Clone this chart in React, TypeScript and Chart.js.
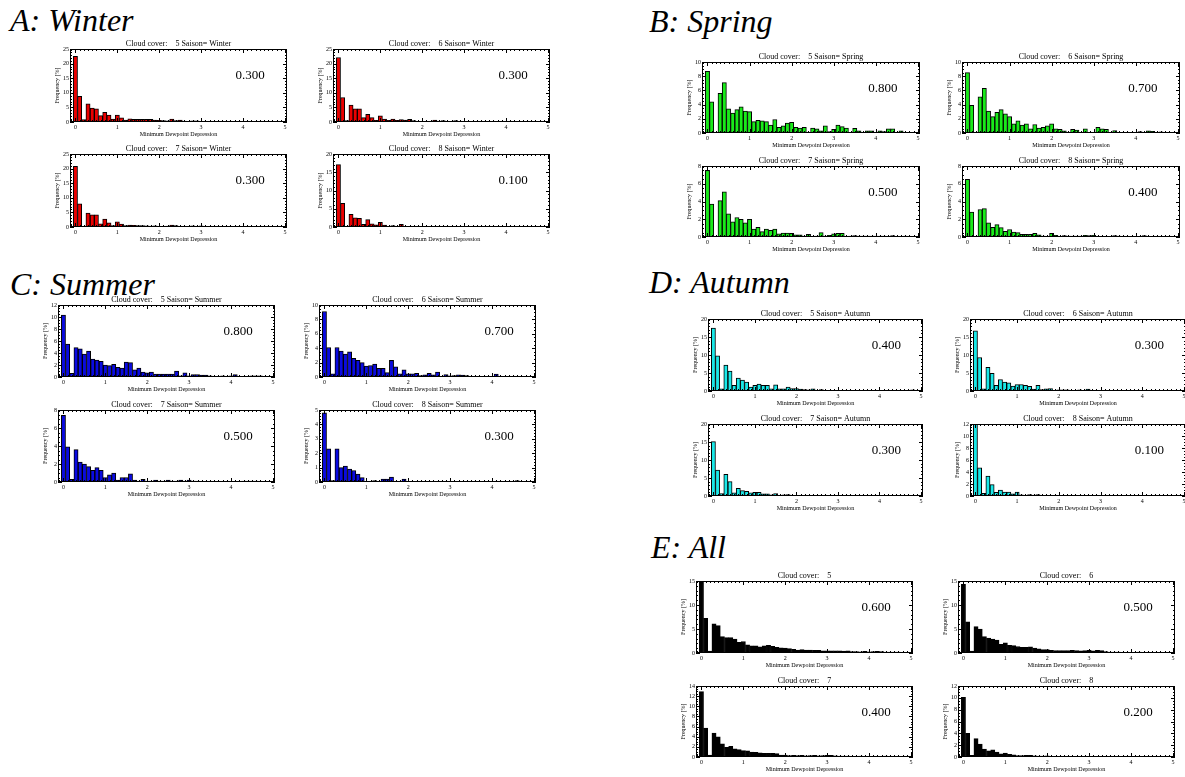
import React, { useEffect, useRef } from "react";
import { Chart, registerables } from "chart.js";

Chart.register(...registerables);

// ---------- DATA ----------
const BIN_CENTERS = [
  0.0, 0.1, 0.2, 0.3, 0.4, 0.5, 0.6, 0.7, 0.8, 0.9,
  1.0, 1.1, 1.2, 1.3, 1.4, 1.5, 1.6, 1.7, 1.8, 1.9,
  2.0, 2.1, 2.2, 2.3, 2.4, 2.5, 2.6, 2.7, 2.8, 2.9,
  3.0, 3.1, 3.2, 3.3, 3.4, 3.5, 3.6, 3.7, 3.8, 3.9,
  4.0, 4.1, 4.2, 4.3, 4.4, 4.5, 4.6, 4.7, 4.8, 4.9,
];

const WINTER_5 = [22.5, 8.8, 0.8, 6.2, 4.8, 4.5, 2.2, 3.3, 2.4, 1.0, 2.4, 1.4, 0.7, 1.1, 0.9, 0.9, 0.9, 0.9, 0.9, 0.7, 0.6, 0.5, 0.4, 1.0, 0.5, 0.7, 0.3, 0.2, 0.4, 0.4, 0.2, 0.2, 0.2, 0.1, 0.1, 0.2, 0.1, 0.1, 0.1, 0.1, 0.1, 0.1, 0.1, 0.1, 0.1, 0.2, 0.1, 0.1, 0.1, 0.1];
const WINTER_6 = [22.1, 8.4, 0.5, 5.8, 4.5, 4.5, 1.5, 2.6, 1.5, 0.6, 2.1, 1.0, 0.6, 1.0, 0.6, 0.8, 0.7, 0.9, 0.5, 0.2, 0.2, 0.2, 0.2, 0.7, 0.3, 0.5, 0.2, 0.2, 0.5, 0.2, 0.1, 0.1, 0.1, 0.1, 0.1, 0.1, 0.1, 0.1, 0.1, 0.1, 0.1, 0.1, 0.1, 0.1, 0.1, 0.1, 0.1, 0.1, 0.1, 0.1];
const WINTER_7 = [20.8, 7.9, 0.2, 4.8, 4.2, 4.2, 1.1, 2.7, 1.4, 0.5, 1.8, 1.0, 0.5, 0.7, 0.6, 0.5, 0.5, 0.4, 0.3, 0.4, 0.2, 0.2, 0.3, 0.7, 0.5, 0.2, 0.1, 0.2, 0.4, 0.2, 0.4, 0.1, 0.1, 0.1, 0.1, 0.1, 0.1, 0.1, 0.1, 0.1, 0.1, 0.1, 0.1, 0.1, 0.1, 0.1, 0.1, 0.1, 0.1, 0.1];
const WINTER_8 = [17.1, 6.5, 0.2, 3.5, 2.5, 2.4, 0.7, 2.0, 0.9, 0.6, 1.3, 0.5, 0.2, 0.4, 0.2, 0.7, 0.1, 0.1, 0.05, 0.05, 0.05, 0.05, 0.05, 0.05, 0.05, 0.05, 0.05, 0.05, 0.05, 0.05, 0.05, 0.05, 0.05, 0.05, 0.05, 0.05, 0.05, 0.05, 0.05, 0.05, 0.05, 0.05, 0.05, 0.05, 0.05, 0.05, 0.05, 0.05, 0.05, 0.05];

const SPRING_5 = [8.7, 4.4, 0, 5.6, 7.1, 3.4, 2.8, 3.3, 3.7, 3.1, 3.0, 1.6, 1.8, 1.7, 1.6, 1.1, 1.9, 0.8, 1.0, 1.4, 1.5, 0.8, 0.7, 0.8, 0.1, 0.7, 0.6, 0.3, 1.0, 0.2, 0.5, 1.1, 0.9, 0.7, 0.1, 0.65, 0.3, 0.1, 0.3, 0.3, 0.1, 0.3, 0.2, 0.6, 0.6, 0.1, 0.3, 0.05, 0.05, 0.1];
const SPRING_6 = [8.5, 3.9, 0, 5.1, 6.3, 3.1, 2.3, 2.9, 3.3, 2.7, 2.3, 1.3, 1.7, 1.1, 1.3, 0.6, 1.2, 0.7, 0.8, 1.0, 1.3, 0.6, 0.5, 0.3, 0.1, 0.5, 0.4, 0.05, 0.6, 0.1, 0.1, 0.8, 0.6, 0.5, 0.05, 0.35, 0.05, 0.1, 0.1, 0.1, 0.1, 0.2, 0.1, 0.3, 0.25, 0.1, 0.15, 0.05, 0.05, 0.05];
const SPRING_7 = [7.5, 3.7, 0, 4.1, 5.1, 2.6, 1.7, 2.2, 2.0, 1.6, 2.0, 0.9, 1.1, 0.6, 0.9, 0.75, 0.9, 0.35, 0.45, 0.45, 0.4, 0.25, 0.25, 0.1, 0.3, 0.05, 0.1, 0.5, 0.1, 0.2, 0.35, 0.4, 0.4, 0.05, 0.1, 0.15, 0.1, 0.1, 0.1, 0.1, 0.1, 0.1, 0.1, 0.05, 0.15, 0.05, 0.05, 0.1, 0.05, 0.05];
const SPRING_8 = [6.5, 2.8, 0, 3.1, 3.2, 1.6, 1.1, 1.4, 1.05, 0.65, 0.85, 0.55, 0.5, 0.3, 0.3, 0.3, 0.4, 0.25, 0.1, 0.05, 0.4, 0.2, 0.05, 0.15, 0.1, 0.1, 0.1, 0.1, 0.2, 0.15, 0.2, 0.05, 0.05, 0.05, 0.05, 0.15, 0.1, 0.05, 0.05, 0.05, 0.05, 0.05, 0.15, 0.05, 0.05, 0.05, 0.05, 0.05, 0.05, 0.05];

const SUMMER_5 = [10.3, 5.5, 0.6, 4.9, 4.7, 3.8, 4.3, 3.0, 2.8, 2.6, 2.0, 1.9, 2.1, 1.6, 1.5, 2.5, 2.4, 1.2, 1.5, 0.8, 0.7, 0.8, 0.5, 0.5, 0.5, 0.5, 0.5, 1.0, 0.2, 0.7, 0.2, 0.4, 0.4, 0.3, 0.3, 0.2, 0.1, 0.1, 0.2, 0.1, 0.2, 0.4, 0.1, 0.05, 0.1, 0.2, 0.2, 0.2, 0.1, 0.05];
const SUMMER_6 = [9.1, 4.1, 0.45, 4.1, 3.6, 3.2, 3.5, 2.6, 2.3, 2.0, 1.5, 1.6, 1.8, 1.2, 1.2, 0.6, 2.3, 1.4, 0.45, 1.0, 0.45, 0.45, 0.5, 0.2, 0.3, 0.5, 0.3, 0.7, 0.1, 0.35, 0.15, 0.2, 0.3, 0.25, 0.2, 0.1, 0.05, 0.05, 0.05, 0.05, 0.05, 0.4, 0.05, 0.05, 0.1, 0.1, 0.1, 0.1, 0.1, 0.05];
const SUMMER_7 = [7.4, 3.9, 0.3, 3.6, 2.2, 2.0, 1.7, 1.3, 1.6, 1.3, 0.5, 0.8, 1.0, 0.2, 0.5, 0.5, 0.9, 0.2, 0.1, 0.3, 0.1, 0.1, 0.2, 0.1, 0.1, 0.2, 0.1, 0.1, 0.2, 0.1, 0.2, 0.1, 0.1, 0.05, 0.05, 0.05, 0.05, 0.05, 0.05, 0.05, 0.05, 0.05, 0.05, 0.1, 0.1, 0.1, 0.1, 0.05, 0.05, 0.05];
const SUMMER_8 = [4.8, 2.3, 0.1, 2.3, 1.0, 1.1, 0.9, 0.8, 0.55, 0.3, 0.05, 0.05, 0.1, 0.05, 0.2, 0.2, 0.35, 0.05, 0.05, 0.2, 0.05, 0.05, 0.05, 0.05, 0.05, 0.05, 0, 0, 0, 0, 0, 0, 0, 0, 0, 0, 0, 0, 0, 0, 0, 0, 0, 0, 0, 0, 0.1, 0, 0, 0];

const AUTUMN_5 = [17.5, 9.8, 0.6, 7.2, 5.5, 1.6, 3.6, 3.0, 2.5, 1.1, 1.6, 1.9, 1.6, 1.6, 0.6, 1.7, 0.6, 0.6, 1.1, 0.7, 0.7, 0.5, 0.4, 0.3, 0.6, 0.2, 0.4, 0.2, 0.1, 0.2, 0.1, 0.1, 0.1, 0.1, 0.1, 0.1, 0.1, 0.1, 0.1, 0.1, 0.1, 0.1, 0.1, 0.1, 0.1, 0.1, 0.1, 0.1, 0.3, 0.1];
const AUTUMN_6 = [16.7, 9.3, 0.6, 6.6, 4.9, 1.6, 3.2, 2.5, 2.3, 1.4, 1.8, 1.8, 1.6, 1.3, 0.5, 1.6, 0.4, 0.6, 0.7, 0.2, 0.3, 0.3, 0.3, 0.1, 0.1, 0.3, 0.1, 0.5, 0.1, 0.1, 0.2, 0.1, 0.2, 0.1, 0.05, 0.05, 0.05, 0.05, 0.05, 0.05, 0.05, 0.05, 0.05, 0.05, 0.05, 0.05, 0.05, 0.05, 0.05, 0.05];
const AUTUMN_7 = [15.1, 7.2, 0.7, 6.0, 4.0, 0.9, 2.1, 1.5, 1.3, 0.9, 1.0, 1.0, 0.6, 0.6, 0.3, 0.7, 0.2, 0.3, 0.4, 0.15, 0.05, 0.05, 0.05, 0.05, 0.05, 0.05, 0.05, 0.05, 0.05, 0.05, 0.05, 0.05, 0.05, 0.05, 0.05, 0.05, 0.05, 0.05, 0.05, 0.05, 0.05, 0.05, 0.05, 0.05, 0.05, 0.05, 0.05, 0.05, 0.05, 0.05];
const AUTUMN_8 = [12.5, 4.7, 0.45, 3.3, 1.9, 0.6, 1.0, 0.65, 0.65, 0.35, 0.65, 0.2, 0.1, 0.25, 0.15, 0.25, 0.05, 0.05, 0.05, 0.05, 0.05, 0.05, 0.05, 0.05, 0.05, 0.05, 0.05, 0.05, 0.05, 0.05, 0.05, 0.05, 0.05, 0.05, 0.05, 0.05, 0.05, 0.05, 0.05, 0.05, 0.05, 0.05, 0.05, 0.05, 0.05, 0.05, 0.05, 0.05, 0.05, 0.05];

const ALL_5 = [14.7, 7.2, 0.4, 6.1, 5.7, 3.4, 3.2, 3.2, 2.9, 2.2, 2.4, 1.7, 1.5, 1.5, 1.3, 1.5, 1.6, 1.4, 1.2, 1.1, 1.05, 0.9, 0.75, 0.6, 0.7, 0.6, 0.6, 0.55, 0.55, 0.45, 0.45, 0.45, 0.45, 0.45, 0.4, 0.45, 0.3, 0.3, 0.25, 0.35, 0.25, 0.3, 0.35, 0.3, 0.2, 0.2, 0.2, 0.2, 0.15, 0.1];
const ALL_6 = [14.3, 6.5, 0.4, 5.5, 5.0, 3.4, 3.1, 2.9, 2.7, 1.8, 2.1, 1.6, 1.55, 1.35, 1.2, 1.2, 1.3, 1.0, 0.85, 0.7, 0.7, 0.55, 0.5, 0.5, 0.5, 0.5, 0.55, 0.5, 0.45, 0.5, 0.55, 0.45, 0.55, 0.5, 0.3, 0.2, 0.2, 0.2, 0.15, 0.15, 0.15, 0.15, 0.2, 0.15, 0.15, 0.15, 0.15, 0.15, 0.15, 0.1];
const ALL_7 = [12.9, 5.7, 0.4, 4.7, 4.0, 2.6, 1.9, 2.1, 1.6, 1.45, 1.25, 1.2, 0.95, 0.9, 0.8, 0.7, 0.7, 0.7, 0.65, 0.4, 0.4, 0.3, 0.35, 0.3, 0.35, 0.25, 0.3, 0.35, 0.25, 0.3, 0.35, 0.35, 0.25, 0.2, 0.2, 0.2, 0.15, 0.15, 0.2, 0.15, 0.15, 0.15, 0.15, 0.15, 0.2, 0.15, 0.15, 0.15, 0.15, 0.1];
const ALL_8 = [10.1, 4.0, 0.3, 3.1, 2.2, 1.35, 1.05, 1.2, 0.85, 0.55, 0.65, 0.45, 0.35, 0.25, 0.25, 0.3, 0.3, 0.2, 0.15, 0.15, 0.2, 0.1, 0.1, 0.1, 0.1, 0.1, 0.1, 0.1, 0.1, 0.1, 0.1, 0.1, 0.1, 0.1, 0.05, 0.05, 0.05, 0.05, 0.05, 0.05, 0.05, 0.05, 0.05, 0.05, 0.05, 0.05, 0.05, 0.05, 0.05, 0.05];

// ---------- STYLE / LAYOUT ----------
const FONT = "'Liberation Serif', 'Times New Roman', serif";
const X_MIN = -0.13;
const X_MAX = 5.05;
const PAD = { left: 26, top: 14, right: 4, bottom: 20 };

type PanelDef = {
  title: string;
  values: number[];
  yMax: number;
  yStep: number;
  color: string;
  stat: string;
  x: number;
  y: number;
  w: number;
  h: number;
};

const RED = "rgb(235,0,0)";
const GREEN = "rgb(25,235,25)";
const BLUE = "rgb(10,10,225)";
const CYAN = "rgb(25,232,232)";
const BLACK = "#000";

const tt = (cc: number, season?: string) =>
  season ? `Cloud cover:    ${cc} Saison= ${season}` : `Cloud cover:    ${cc}`;

const PANELS: PanelDef[] = [
  { title: tt(5, "Winter"), values: WINTER_5, yMax: 25, yStep: 5, color: RED, stat: "0.300", x: 70, y: 49, w: 217, h: 73 },
  { title: tt(6, "Winter"), values: WINTER_6, yMax: 25, yStep: 5, color: RED, stat: "0.300", x: 333, y: 49, w: 217, h: 73 },
  { title: tt(7, "Winter"), values: WINTER_7, yMax: 25, yStep: 5, color: RED, stat: "0.300", x: 70, y: 154, w: 217, h: 73 },
  { title: tt(8, "Winter"), values: WINTER_8, yMax: 20, yStep: 5, color: RED, stat: "0.100", x: 333, y: 154, w: 217, h: 73 },

  { title: tt(5, "Spring"), values: SPRING_5, yMax: 10, yStep: 2, color: GREEN, stat: "0.800", x: 702, y: 62, w: 218, h: 71 },
  { title: tt(6, "Spring"), values: SPRING_6, yMax: 10, yStep: 2, color: GREEN, stat: "0.700", x: 962, y: 62, w: 218, h: 71 },
  { title: tt(7, "Spring"), values: SPRING_7, yMax: 8, yStep: 2, color: GREEN, stat: "0.500", x: 702, y: 166, w: 218, h: 71 },
  { title: tt(8, "Spring"), values: SPRING_8, yMax: 8, yStep: 2, color: GREEN, stat: "0.400", x: 962, y: 166, w: 218, h: 71 },

  { title: tt(5, "Summer"), values: SUMMER_5, yMax: 12, yStep: 2, color: BLUE, stat: "0.800", x: 58, y: 305, w: 217, h: 72 },
  { title: tt(6, "Summer"), values: SUMMER_6, yMax: 10, yStep: 2, color: BLUE, stat: "0.700", x: 319, y: 305, w: 217, h: 72 },
  { title: tt(7, "Summer"), values: SUMMER_7, yMax: 8, yStep: 2, color: BLUE, stat: "0.500", x: 58, y: 410, w: 217, h: 72 },
  { title: tt(8, "Summer"), values: SUMMER_8, yMax: 5, yStep: 1, color: BLUE, stat: "0.300", x: 319, y: 410, w: 217, h: 72 },

  { title: tt(5, "Autumn"), values: AUTUMN_5, yMax: 20, yStep: 5, color: CYAN, stat: "0.400", x: 708, y: 319, w: 215, h: 72 },
  { title: tt(6, "Autumn"), values: AUTUMN_6, yMax: 20, yStep: 5, color: CYAN, stat: "0.300", x: 970, y: 319, w: 216, h: 72 },
  { title: tt(7, "Autumn"), values: AUTUMN_7, yMax: 20, yStep: 5, color: CYAN, stat: "0.300", x: 708, y: 424, w: 215, h: 72 },
  { title: tt(8, "Autumn"), values: AUTUMN_8, yMax: 12, yStep: 2, color: CYAN, stat: "0.100", x: 970, y: 424, w: 216, h: 72 },

  { title: tt(5), values: ALL_5, yMax: 15, yStep: 5, color: BLACK, stat: "0.600", x: 696, y: 581, w: 217, h: 72 },
  { title: tt(6), values: ALL_6, yMax: 15, yStep: 5, color: BLACK, stat: "0.500", x: 958, y: 581, w: 217, h: 72 },
  { title: tt(7), values: ALL_7, yMax: 14, yStep: 2, color: BLACK, stat: "0.400", x: 696, y: 686, w: 217, h: 71 },
  { title: tt(8), values: ALL_8, yMax: 12, yStep: 2, color: BLACK, stat: "0.200", x: 958, y: 686, w: 217, h: 71 },
];

const HEADERS = [
  { text: "A: Winter", x: 10, baseline: 31 },
  { text: "B: Spring", x: 649, baseline: 32 },
  { text: "C: Summer", x: 10, baseline: 295 },
  { text: "D: Autumn", x: 649, baseline: 293 },
  { text: "E: All", x: 651, baseline: 558 },
];

// ---------- PLUGIN: IDL-style frame, inward ticks and texts ----------
const idlFrame = {
  id: "idlFrame",
  afterDraw(chart: any, _args: any, opts: any) {
    const { ctx, chartArea: a, scales } = chart;
    const xs = scales.x;
    const ys = scales.y;
    const w = a.right - a.left;
    const h = a.bottom - a.top;
    ctx.save();
    ctx.strokeStyle = "#000";
    ctx.lineWidth = 1;
    ctx.strokeRect(a.left + 0.5, a.top + 0.5, w - 1, h - 1);

    ctx.beginPath();
    for (let k = -1; k <= 50; k++) {
      const v = k / 10;
      if (v < X_MIN || v > X_MAX) continue;
      const px = Math.round(xs.getPixelForValue(v)) + 0.5;
      const len = k % 10 === 0 ? 4 : 2;
      ctx.moveTo(px, a.bottom);
      ctx.lineTo(px, a.bottom - len);
      ctx.moveTo(px, a.top);
      ctx.lineTo(px, a.top + len);
    }
    const yStep = opts.yStep;
    const nMinor = yStep === 2 ? 4 : 5;
    const minor = yStep / nMinor;
    const nTot = Math.round(opts.yMax / minor);
    for (let k = 0; k <= nTot; k++) {
      const v = k * minor;
      const py = Math.round(ys.getPixelForValue(v)) + 0.5;
      const len = k % nMinor === 0 ? 4 : 2;
      ctx.moveTo(a.left, py);
      ctx.lineTo(a.left + len, py);
      ctx.moveTo(a.right, py);
      ctx.lineTo(a.right - len, py);
    }
    ctx.stroke();

    ctx.fillStyle = "#000";
    ctx.font = `6px ${FONT}`;
    ctx.textAlign = "center";
    ctx.textBaseline = "top";
    (xs.ticks || []).forEach((t: any) => {
      ctx.fillText(String(t.value), xs.getPixelForValue(t.value), a.bottom + 2);
    });
    ctx.textAlign = "right";
    ctx.textBaseline = "middle";
    (ys.ticks || []).forEach((t: any) => {
      ctx.fillText(String(t.value), a.left - 1, ys.getPixelForValue(t.value));
    });
    ctx.textAlign = "center";
    ctx.textBaseline = "top";
    ctx.fillText("Minimum Dewpoint Depression", a.left + w / 2, a.bottom + 9);
    ctx.save();
    ctx.translate(a.left - 13, a.top + h / 2);
    ctx.rotate(-Math.PI / 2);
    ctx.textAlign = "center";
    ctx.textBaseline = "middle";
    ctx.fillText("Frequency [%]", 0, 0);
    ctx.restore();
    ctx.font = `8px ${FONT}`;
    ctx.textAlign = "center";
    ctx.textBaseline = "alphabetic";
    ctx.fillText(opts.title, a.left + w / 2, a.top - 3);
    ctx.font = `13px ${FONT}`;
    ctx.textBaseline = "middle";
    ctx.fillText(opts.stat, a.left + 0.83 * w, a.top + 0.37 * h);
    ctx.restore();
  },
};

function Panel({ p }: { p: PanelDef }) {
  const ref = useRef<HTMLCanvasElement | null>(null);
  const cw = p.w + PAD.left + PAD.right;
  const ch = p.h + PAD.top + PAD.bottom;
  useEffect(() => {
    if (!ref.current) return;
    const chart = new Chart(ref.current, {
      type: "bar",
      data: {
        datasets: [
          {
            data: BIN_CENTERS.map((c, i) => ({ x: c, y: p.values[i] })),
            backgroundColor: p.color,
            borderColor: "#000",
            borderWidth: 1,
            barPercentage: 1,
            categoryPercentage: 1,
          },
        ],
      },
      options: {
        responsive: false,
        animation: false,
        devicePixelRatio: 1,
        layout: { padding: PAD },
        events: [],
        plugins: {
          legend: { display: false },
          tooltip: { enabled: false },
          title: { display: false },
          idlFrame: { title: p.title, stat: p.stat, yStep: p.yStep, yMax: p.yMax },
        } as any,
        scales: {
          x: {
            type: "linear",
            display: false,
            offset: false,
            grid: { offset: false },
            min: X_MIN,
            max: X_MAX,
            ticks: { stepSize: 1, includeBounds: false, font: { size: 4 } },
          },
          y: {
            type: "linear",
            display: false,
            min: 0,
            max: p.yMax,
            ticks: { stepSize: p.yStep, font: { size: 4 }, maxTicksLimit: 20 },
          },
        },
      } as any,
      plugins: [idlFrame as any],
    });
    return () => chart.destroy();
  }, [p]);
  return (
    <canvas
      ref={ref}
      width={cw}
      height={ch}
      style={{
        position: "absolute",
        left: p.x - PAD.left,
        top: p.y - PAD.top,
        width: cw,
        height: ch,
      }}
    />
  );
}

export default function App() {
  return (
    <div
      style={{
        position: "fixed",
        left: 0,
        top: 0,
        width: 1185,
        height: 777,
        overflow: "hidden",
        background: "#fff",
      }}
    >
      {HEADERS.map((hd) => (
        <div
          key={hd.text}
          style={{
            position: "absolute",
            left: hd.x,
            top: hd.baseline - 27,
            fontFamily: FONT,
            fontStyle: "italic",
            fontSize: 32,
            lineHeight: "32px",
            whiteSpace: "nowrap",
            color: "#000",
          }}
        >
          {hd.text}
        </div>
      ))}
      {PANELS.map((p, i) => (
        <Panel key={i} p={p} />
      ))}
    </div>
  );
}
